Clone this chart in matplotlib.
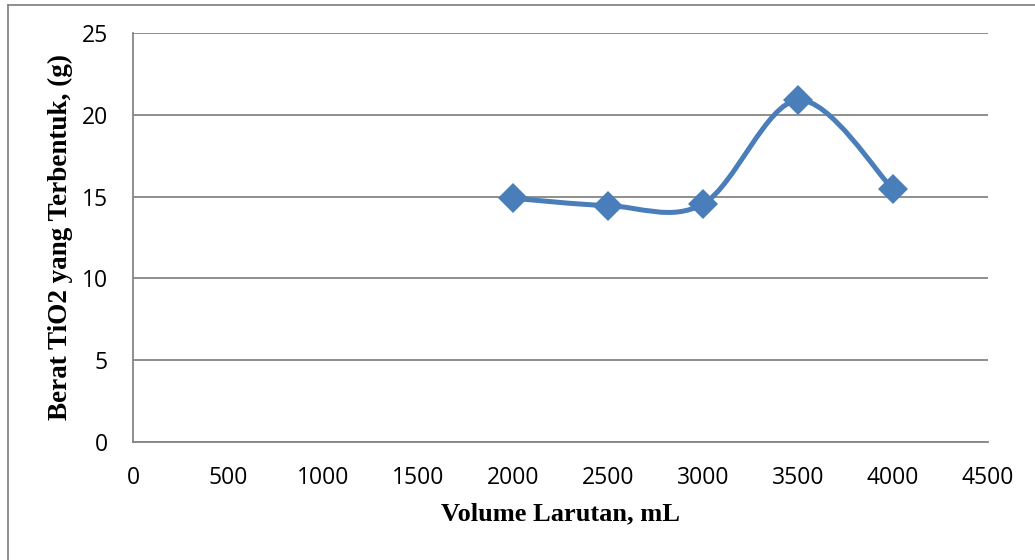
import numpy as np
import matplotlib
matplotlib.use('Agg')
import matplotlib.pyplot as plt
from matplotlib.path import Path
from matplotlib.patches import PathPatch
from matplotlib.lines import Line2D

# data
volume = [2000, 2500, 3000, 3500, 4000]
berat = [14.9, 14.45, 14.55, 20.9, 15.45]
xticks = [0, 500, 1000, 1500, 2000, 2500, 3000, 3500, 4000, 4500]
yticks = [0, 5, 10, 15, 20, 25]

blue = '#4A7EBB'
grey = '#868686'

fig = plt.figure(figsize=(10.35, 5.6), dpi=100)
ax = fig.add_axes([133/1035, 1-442/560, (988-133)/1035, (442-33)/560])

# smoothed line like Excel (bezier through the points)
x = np.array(volume, dtype=float)
y = np.array(berat, dtype=float)
verts = [(x[0], y[0])]
codes = [Path.MOVETO]
n = len(x)
for i in range(n - 1):
    x0, y0 = (x[i-1], y[i-1]) if i > 0 else (x[i], y[i])
    x3, y3 = (x[i+2], y[i+2]) if i + 2 < n else (x[i+1], y[i+1])
    c1 = (x[i] + (x[i+1] - x0) / 6, y[i] + (y[i+1] - y0) / 6)
    c2 = (x[i+1] - (x3 - x[i]) / 6, y[i+1] - (y3 - y[i]) / 6)
    verts += [c1, c2, (x[i+1], y[i+1])]
    codes += [Path.CURVE4] * 3
ax.add_patch(PathPatch(Path(verts, codes), fill=False, edgecolor=blue,
                       lw=3.6, capstyle='round', joinstyle='round', zorder=3))
ax.plot(volume, berat, ls='none', marker='D', ms=15, mew=0, color=blue, zorder=4)

ax.set_xlim(0, 4500)
ax.set_ylim(0, 25)
ax.set_xticks(xticks)
ax.set_yticks(yticks)
ax.grid(axis='y', color=grey, lw=1.3)
ax.set_axisbelow(True)
for s in ['top', 'right']:
    ax.spines[s].set_visible(False)
ax.spines['left'].set_color(grey)
ax.spines['bottom'].set_color(grey)
ax.spines['left'].set_linewidth(1.3)
ax.spines['bottom'].set_linewidth(1.3)
ax.tick_params(length=0, labelsize=16.5, labelcolor='black')
ax.tick_params(axis='x', pad=17.5)
ax.tick_params(axis='y', pad=18)
for lab in ax.get_xticklabels() + ax.get_yticklabels():
    lab.set_family('Open Sans')

ax.set_xlabel('Volume Larutan, mL', fontsize=19, fontweight='bold',
              family='Liberation Serif', labelpad=9)
ax.set_ylabel('Berat TiO2 yang Terbentuk, (g)', fontsize=19.5, fontweight='bold',
              family='Liberation Serif', labelpad=6)

# outer chart border
fig.add_artist(Line2D([7.5/1035, 7.5/1035], [0, 1-4.5/560], transform=fig.transFigure, color=grey, lw=1.3))
fig.add_artist(Line2D([7.5/1035, 1], [1-4.5/560, 1-4.5/560], transform=fig.transFigure, color=grey, lw=1.3))

fig.savefig('out.png', dpi=100)
